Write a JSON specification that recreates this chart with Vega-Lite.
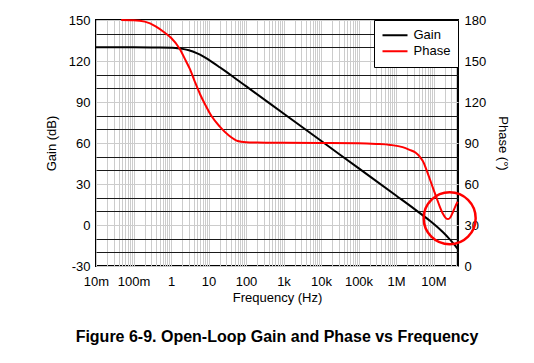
{
  "$schema": "https://vega.github.io/schema/vega-lite/v6.json",
  "width": 362,
  "height": 246,
  "autosize": {"type": "none"},
  "padding": {"left": 96, "top": 20, "right": 76, "bottom": 97},
  "background": "white",
  "title": {
    "text": "Figure 6-9. Open-Loop Gain and Phase vs Frequency",
    "orient": "bottom",
    "anchor": "middle",
    "frame": "group",
    "font": "Liberation Sans",
    "fontSize": 16,
    "fontWeight": "bold",
    "color": "#000000",
    "offset": 25
  },
  "config": {
    "view": {"stroke": "#000000", "strokeWidth": 2},
    "font": "Liberation Sans",
    "axis": {
      "labelFont": "Liberation Sans",
      "labelFontSize": 13,
      "labelColor": "#000000",
      "titleFont": "Liberation Sans",
      "titleFontSize": 13,
      "titleFontWeight": "normal",
      "titleColor": "#000000",
      "ticks": false,
      "domain": false
    }
  },
  "datasets": {
    "gain": [
      {"f": 0.01, "v": 130, "series": "Gain"},
      {"f": 0.1, "v": 130, "series": "Gain"},
      {"f": 0.5, "v": 129.9, "series": "Gain"},
      {"f": 1, "v": 129.7, "series": "Gain"},
      {"f": 1.5, "v": 129.4, "series": "Gain"},
      {"f": 2, "v": 128.9, "series": "Gain"},
      {"f": 3, "v": 127.9, "series": "Gain"},
      {"f": 5, "v": 125.6, "series": "Gain"},
      {"f": 7, "v": 123.6, "series": "Gain"},
      {"f": 10, "v": 121.0, "series": "Gain"},
      {"f": 20, "v": 115.4, "series": "Gain"},
      {"f": 30, "v": 112.0, "series": "Gain"},
      {"f": 50, "v": 107.6, "series": "Gain"},
      {"f": 100, "v": 101.6, "series": "Gain"},
      {"f": 1000, "v": 81.6, "series": "Gain"},
      {"f": 10000, "v": 61.6, "series": "Gain"},
      {"f": 100000, "v": 41.6, "series": "Gain"},
      {"f": 1000000, "v": 21.6, "series": "Gain"},
      {"f": 3000000, "v": 12.0, "series": "Gain"},
      {"f": 5000000, "v": 7.4, "series": "Gain"},
      {"f": 8000000, "v": 3.1, "series": "Gain"},
      {"f": 12000000, "v": -0.9, "series": "Gain"},
      {"f": 16000000, "v": -4.0, "series": "Gain"},
      {"f": 20000000, "v": -6.6, "series": "Gain"},
      {"f": 25000000, "v": -9.4, "series": "Gain"},
      {"f": 30000000, "v": -11.8, "series": "Gain"},
      {"f": 37000000, "v": -14.8, "series": "Gain"},
      {"f": 45000000, "v": -17.8, "series": "Gain"}
    ],
    "phase": [
      {"f": 0.047, "v": 180, "series": "Phase"},
      {"f": 0.1, "v": 179.8, "series": "Phase"},
      {"f": 0.2, "v": 178.8, "series": "Phase"},
      {"f": 0.4, "v": 175.2, "series": "Phase"},
      {"f": 0.7, "v": 170.5, "series": "Phase"},
      {"f": 1, "v": 167, "series": "Phase"},
      {"f": 1.7, "v": 159, "series": "Phase"},
      {"f": 2.5, "v": 150, "series": "Phase"},
      {"f": 3.2, "v": 144, "series": "Phase"},
      {"f": 4.3, "v": 135, "series": "Phase"},
      {"f": 6, "v": 125.5, "series": "Phase"},
      {"f": 8, "v": 118.5, "series": "Phase"},
      {"f": 12, "v": 109.7, "series": "Phase"},
      {"f": 20, "v": 102, "series": "Phase"},
      {"f": 35, "v": 95.5, "series": "Phase"},
      {"f": 60, "v": 91.5, "series": "Phase"},
      {"f": 100, "v": 90.6, "series": "Phase"},
      {"f": 200, "v": 90.3, "series": "Phase"},
      {"f": 500, "v": 90.1, "series": "Phase"},
      {"f": 1000, "v": 90.1, "series": "Phase"},
      {"f": 10000, "v": 90, "series": "Phase"},
      {"f": 100000, "v": 89.8, "series": "Phase"},
      {"f": 300000, "v": 89.3, "series": "Phase"},
      {"f": 700000, "v": 88.6, "series": "Phase"},
      {"f": 1500000, "v": 87, "series": "Phase"},
      {"f": 2300000, "v": 85, "series": "Phase"},
      {"f": 3300000, "v": 83, "series": "Phase"},
      {"f": 4300000, "v": 80, "series": "Phase"},
      {"f": 5500000, "v": 75.5, "series": "Phase"},
      {"f": 6500000, "v": 70.3, "series": "Phase"},
      {"f": 8000000, "v": 63.5, "series": "Phase"},
      {"f": 9700000, "v": 57, "series": "Phase"},
      {"f": 12000000, "v": 50, "series": "Phase"},
      {"f": 14700000, "v": 43.5, "series": "Phase"},
      {"f": 18000000, "v": 38, "series": "Phase"},
      {"f": 21000000, "v": 35.2, "series": "Phase"},
      {"f": 24500000, "v": 34.3, "series": "Phase"},
      {"f": 28000000, "v": 35.5, "series": "Phase"},
      {"f": 33000000, "v": 39.5, "series": "Phase"},
      {"f": 38000000, "v": 43.5, "series": "Phase"},
      {"f": 44000000, "v": 47, "series": "Phase"}
    ],
    "note": [
      {"f": 27000000, "v": 35}
    ]
  },
  "encoding": {
    "x": {
      "field": "f",
      "type": "quantitative",
      "scale": {"type": "log", "domain": [0.01, 45000000], "nice": false},
      "axis": {
        "title": "Frequency (Hz)",
        "values": [0.01,0.02,0.03,0.04,0.05,0.06,0.07,0.08,0.09,0.1,0.2,0.3,0.4,0.5,0.6,0.7,0.8,0.9,1,2,3,4,5,6,7,8,9,10,20,30,40,50,60,70,80,90,100,200,300,400,500,600,700,800,900,1000,2000,3000,4000,5000,6000,7000,8000,9000,10000,20000,30000,40000,50000,60000,70000,80000,90000,100000,200000,300000,400000,500000,600000,700000,800000,900000,1000000,2000000,3000000,4000000,5000000,6000000,7000000,8000000,9000000,10000000,20000000,30000000,40000000],
        "labelExpr": "datum.value == 0.01 ? '10m' : datum.value == 0.1 ? '100m' : datum.value == 1 ? '1' : datum.value == 10 ? '10' : datum.value == 100 ? '100' : datum.value == 1000 ? '1k' : datum.value == 10000 ? '10k' : datum.value == 100000 ? '100k' : datum.value == 1000000 ? '1M' : datum.value == 10000000 ? '10M' : ''",
        "grid": true,
        "gridColor": "#cccccc",
        "gridWidth": 1,
        "labelPadding": 9,
        "titlePadding": 3,
        "labelOverlap": false,
        "labelFlush": false,
        "labelBound": false
      }
    }
  },
  "layer": [
    {
      "data": {"name": "gain"},
      "mark": {"type": "line", "strokeWidth": 2, "interpolate": "monotone"},
      "encoding": {
        "y": {
          "field": "v",
          "type": "quantitative",
          "scale": {"domain": [-30, 150], "nice": false, "zero": false},
          "axis": {
            "orient": "left",
            "title": "Gain (dB)",
            "values": [-30,-20,-10,0,10,20,30,40,50,60,70,80,90,100,110,120,130,140,150],
            "labelExpr": "datum.value % 30 == 0 ? ('' + datum.value) : ''",
            "grid": true,
            "gridColor": {"condition": {"test": "datum.value % 30 == 0", "value": "#cccccc"}, "value": "#1a1a1a"},
            "gridWidth": 1,
            "labelPadding": 6,
            "titlePadding": 10
          }
        },
        "color": {
          "field": "series",
          "type": "nominal",
          "scale": {"domain": ["Gain", "Phase"], "range": ["#000000", "#ff0000"]},
          "legend": {
            "title": null,
            "orient": "top-right",
            "offset": 0,
            "fillColor": "#ffffff",
            "strokeColor": "#000000",
            "padding": 7.5,
            "symbolType": "stroke",
            "symbolSize": 625,
            "symbolStrokeWidth": 2,
            "clipHeight": 15.5,
            "labelFont": "Liberation Sans",
            "labelFontSize": 13,
            "labelColor": "#000000",
            "labelOffset": 5,
            "rowPadding": 0
          }
        }
      }
    },
    {
      "data": {"name": "phase"},
      "mark": {"type": "line", "strokeWidth": 2, "interpolate": "monotone"},
      "encoding": {
        "y": {
          "field": "v",
          "type": "quantitative",
          "scale": {"domain": [0, 180], "nice": false, "zero": false},
          "axis": {
            "orient": "right",
            "title": "Phase (°)",
            "values": [0, 30, 60, 90, 120, 150, 180],
            "labelExpr": "'' + datum.value",
            "grid": false,
            "labelPadding": 6,
            "titlePadding": 10
          }
        },
        "color": {
          "field": "series",
          "type": "nominal",
          "scale": {"domain": ["Gain", "Phase"], "range": ["#000000", "#ff0000"]}
        }
      }
    },
    {
      "data": {"name": "note"},
      "mark": {"type": "point", "shape": "circle", "filled": false, "size": 2700, "stroke": "#ff0000", "strokeWidth": 2.5, "opacity": 1, "clip": false},
      "encoding": {
        "y": {
          "field": "v",
          "type": "quantitative",
          "scale": {"domain": [0, 180], "nice": false, "zero": false},
          "axis": null
        }
      }
    }
  ],
  "resolve": {"scale": {"y": "independent"}}
}
